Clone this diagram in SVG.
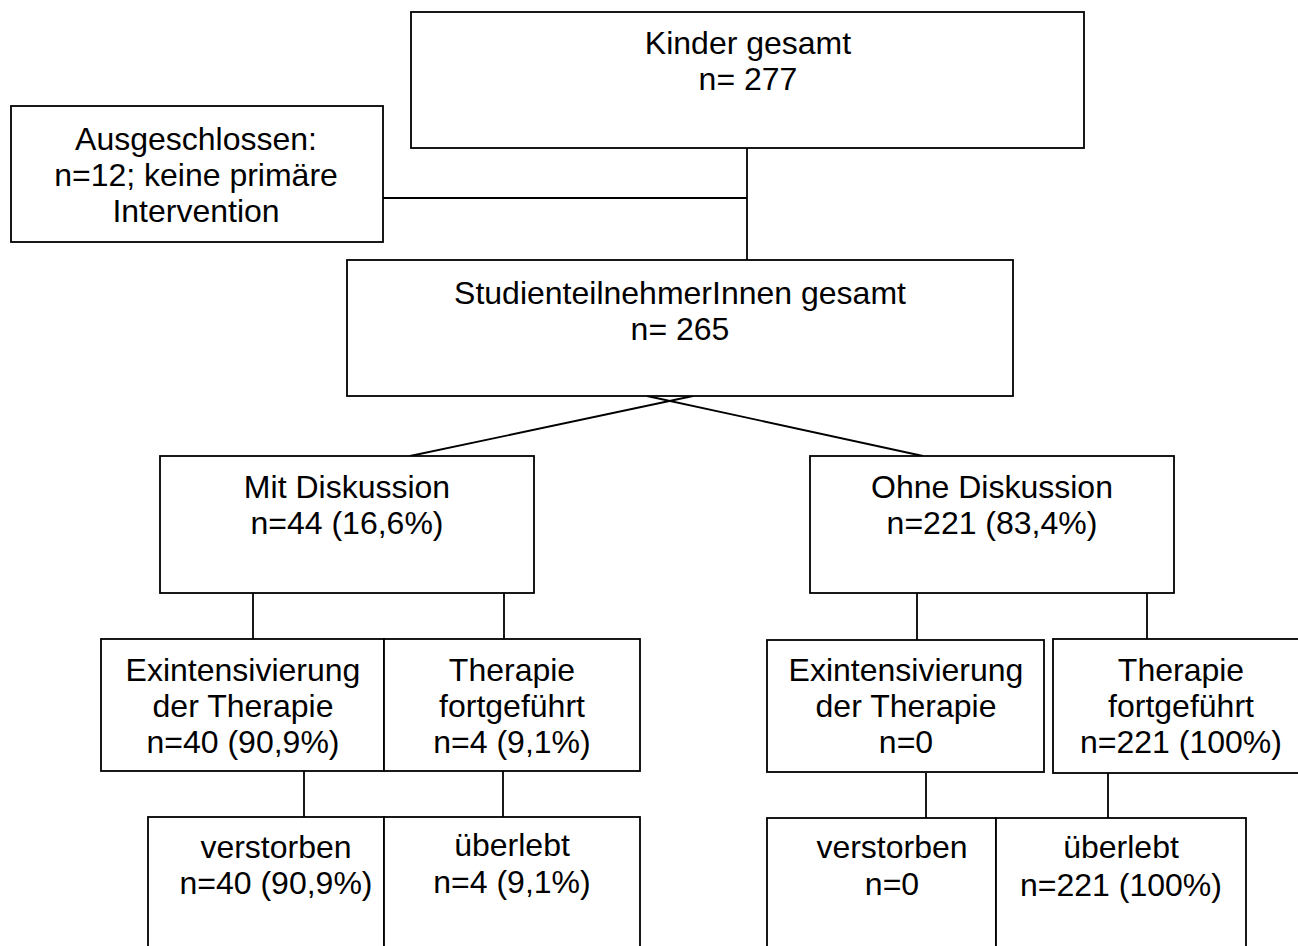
<svg xmlns="http://www.w3.org/2000/svg" width="1298" height="946" viewBox="0 0 1298 946">
<style>
.box{fill:#fff;stroke:#000;stroke-width:1.8}
.ln{stroke:#000;stroke-width:1.8;fill:none}
text{font-family:"Liberation Sans",Arial,sans-serif;font-size:32px;fill:#000;text-anchor:middle}
</style>
<rect width="1298" height="946" fill="#fff"/>
<g id="connectors">
<line class="ln" x1="747" y1="148" x2="747" y2="260"/>
<line class="ln" x1="383" y1="198" x2="747" y2="198"/>
<line class="ln" x1="693" y1="396" x2="410" y2="456"/>
<line class="ln" x1="647" y1="396" x2="923" y2="456"/>
<line class="ln" x1="253" y1="593" x2="253" y2="639"/>
<line class="ln" x1="504" y1="593" x2="504" y2="639"/>
<line class="ln" x1="917" y1="593" x2="917" y2="640"/>
<line class="ln" x1="1147" y1="593" x2="1147" y2="640"/>
<line class="ln" x1="304" y1="771" x2="304" y2="817"/>
<line class="ln" x1="503" y1="771" x2="503" y2="817"/>
<line class="ln" x1="926" y1="773" x2="926" y2="818"/>
<line class="ln" x1="1108" y1="773" x2="1108" y2="818"/>
</g>
<g id="kinder">
<rect class="box" x="411" y="12" width="673" height="136"/>
<text x="748" y="54">Kinder gesamt</text>
<text x="748" y="90">n= 277</text>
</g>
<g id="ausgeschlossen">
<rect class="box" x="11" y="106" width="372" height="136"/>
<text x="196" y="150">Ausgeschlossen:</text>
<text x="196" y="186">n=12; keine primäre</text>
<text x="196" y="222">Intervention</text>
</g>
<g id="studien">
<rect class="box" x="347" y="260" width="666" height="136"/>
<text x="680" y="304">StudienteilnehmerInnen gesamt</text>
<text x="680" y="340">n= 265</text>
</g>
<g id="mit">
<rect class="box" x="160" y="456" width="374" height="137"/>
<text x="347" y="498">Mit Diskussion</text>
<text x="347" y="534">n=44 (16,6%)</text>
</g>
<g id="ohne">
<rect class="box" x="810" y="456" width="364" height="137"/>
<text x="992" y="498">Ohne Diskussion</text>
<text x="992" y="534">n=221 (83,4%)</text>
</g>
<g id="exint-mit">
<rect class="box" x="101" y="639" width="283" height="132"/>
<text x="243" y="681">Exintensivierung</text>
<text x="243" y="717">der Therapie</text>
<text x="243" y="753">n=40 (90,9%)</text>
</g>
<g id="fort-mit">
<rect class="box" x="384" y="639" width="256" height="132"/>
<text x="512" y="681">Therapie</text>
<text x="512" y="717">fortgeführt</text>
<text x="512" y="753">n=4 (9,1%)</text>
</g>
<g id="exint-ohne">
<rect class="box" x="767" y="640" width="277" height="132"/>
<text x="906" y="681">Exintensivierung</text>
<text x="906" y="717">der Therapie</text>
<text x="906" y="753">n=0</text>
</g>
<g id="fort-ohne">
<rect class="box" x="1053" y="639" width="270" height="134"/>
<text x="1181" y="681">Therapie</text>
<text x="1181" y="717">fortgeführt</text>
<text x="1181" y="753">n=221 (100%)</text>
</g>
<g id="verst-mit">
<rect class="box" x="148" y="817" width="236" height="160"/>
<text x="276" y="858">verstorben</text>
<text x="276" y="894">n=40 (90,9%)</text>
</g>
<g id="ueber-mit">
<rect class="box" x="384" y="817" width="256" height="160"/>
<text x="512" y="856">überlebt</text>
<text x="512" y="893">n=4 (9,1%)</text>
</g>
<g id="verst-ohne">
<rect class="box" x="767" y="818" width="229" height="160"/>
<text x="892" y="858">verstorben</text>
<text x="892" y="895">n=0</text>
</g>
<g id="ueber-ohne">
<rect class="box" x="996" y="818" width="250" height="160"/>
<text x="1121" y="858">überlebt</text>
<text x="1121" y="896">n=221 (100%)</text>
</g>
</svg>
